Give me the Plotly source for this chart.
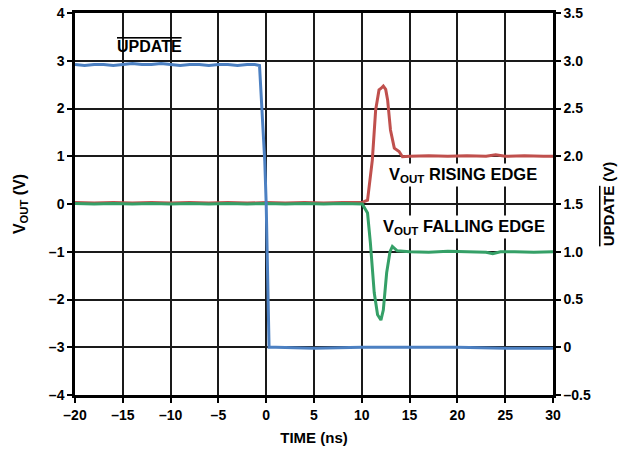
import plotly.graph_objects as go

# ---- data ----
update_t = [-20, -19, -18, -17, -16, -15, -14, -13, -12, -11, -10, -9, -8, -7, -6, -5, -4, -3, -2, -1.2,
            -0.7, -0.5, -0.3, -0.15, 0.0, 0.15, 0.3, 1, 5, 10, 15, 20, 25, 30]
update_v = [2.96, 2.95, 2.96, 2.96, 2.95, 2.96, 2.97, 2.96, 2.96, 2.97, 2.96, 2.95, 2.96, 2.96, 2.95, 2.96,
            2.96, 2.95, 2.96, 2.96, 2.95, 2.6, 2.2, 1.95, 1.5, 0.8, 0.0, 0.0, -0.01, 0.0, 0.0, 0.0, -0.01, -0.01]

rise_t = [-20, -18, -16, -14, -12, -10, -8, -6, -4, -2, 0, 2, 4, 6, 8, 10, 10.6, 11.1, 11.45, 11.8, 12.0,
          12.25, 12.5, 12.7, 13.0, 13.4, 13.9, 14.25, 15, 17, 19, 21, 23, 24, 25, 27, 29, 30]
rise_v = [0.03, 0.02, 0.03, 0.02, 0.03, 0.02, 0.03, 0.02, 0.03, 0.02, 0.03, 0.02, 0.03, 0.02, 0.03, 0.03,
          0.08, 0.92, 1.97, 2.39, 2.42, 2.47, 2.4, 2.18, 1.55, 1.17, 1.1, 0.99, 1.0, 1.01, 1.0, 1.01, 1.0,
          1.03, 1.0, 1.01, 1.0, 1.0]

fall_t = [-20, -18, -16, -14, -12, -10, -8, -6, -4, -2, 0, 2, 4, 6, 8, 10.05, 10.6, 10.9, 11.3, 11.65,
          12.0, 12.25, 12.6, 12.95, 13.2, 13.7, 15, 17, 19, 21, 23, 23.7, 24.5, 26, 28, 30]
fall_v = [0.01, 0.0, 0.01, 0.0, 0.01, 0.0, 0.01, 0.0, 0.01, 0.0, 0.01, 0.0, 0.01, 0.0, 0.01, 0.0, -0.19,
          -0.82, -1.86, -2.32, -2.43, -2.22, -1.44, -1.0, -0.89, -0.98, -1.0, -1.01, -0.99, -1.0, -1.01,
          -1.04, -1.0, -1.0, -1.01, -1.0]

x_ticks = [-20, -15, -10, -5, 0, 5, 10, 15, 20, 25, 30]
x_labels = ["–20", "–15", "–10", "–5", "0", "5", "10", "15", "20", "25", "30"]
y1_ticks = [-4, -3, -2, -1, 0, 1, 2, 3, 4]
y1_labels = ["–4", "–3", "–2", "–1", "0", "1", "2", "3", "4"]
y2_ticks = [-0.5, 0, 0.5, 1.0, 1.5, 2.0, 2.5, 3.0, 3.5]
y2_labels = ["–0.5", "0", "0.5", "1.0", "1.5", "2.0", "2.5", "3.0", "3.5"]

BLUE = "#4c80c2"
RED = "#c0504d"
GREEN = "#35a067"
FONT = "Liberation Sans, Arial, sans-serif"
OVER = "<span style='text-decoration:overline'>UPDATE</span>"

fig = go.Figure()
fig.add_trace(go.Scatter(x=rise_t, y=rise_v, mode="lines", line=dict(color=RED, width=3), yaxis="y"))
fig.add_trace(go.Scatter(x=fall_t, y=fall_v, mode="lines", line=dict(color=GREEN, width=3), yaxis="y"))
fig.add_trace(go.Scatter(x=update_t, y=update_v, mode="lines", line=dict(color=BLUE, width=3), yaxis="y2"))

axis_common = dict(showline=True, linecolor="black", linewidth=2.5, ticks="outside", ticklen=5,
                   tickcolor="black", tickwidth=1.5, automargin=False, ticklabeloverflow="allow",
                   tickfont=dict(family=FONT, size=14, color="black", weight="bold"))

fig.update_layout(
    width=637, height=452,
    margin=dict(l=75, r=84, t=13, b=57),
    paper_bgcolor="white", plot_bgcolor="white",
    showlegend=False,
    font=dict(family=FONT, color="black"),
    xaxis=dict(range=[-20, 30], tickvals=x_ticks, ticktext=x_labels, showgrid=True,
               gridcolor="#1a1a1a", gridwidth=1.5, zeroline=False, mirror=True,
               title=dict(text="<b>TIME (ns)</b>", font=dict(size=15), standoff=11),
               **axis_common),
    yaxis=dict(range=[-4, 4], tickvals=y1_ticks, ticktext=y1_labels, showgrid=True,
               gridcolor="#1a1a1a", gridwidth=1.5, zeroline=False,
               title=dict(text="<b>V<sub>OUT</sub> (V)</b>", font=dict(size=16), standoff=20),
               **axis_common),
    yaxis2=dict(range=[-0.5, 3.5], tickvals=y2_ticks, ticktext=y2_labels, overlaying="y", side="right",
                showgrid=False, zeroline=False,
                title=dict(text="<b>" + OVER + " (V)</b>", font=dict(size=15), standoff=14),
                **axis_common),
)

fig.add_annotation(x=-12.2, y=3.29, xref="x", yref="y", text="<b>" + OVER + "</b>", showarrow=False,
                   font=dict(size=16, color="black"))
fig.add_annotation(x=20.6, y=0.6, xref="x", yref="y", text="<b>V<sub>OUT</sub> RISING EDGE</b>",
                   showarrow=False, font=dict(size=16.5, color="black"), bgcolor="white")
fig.add_annotation(x=20.7, y=-0.48, xref="x", yref="y", text="<b>V<sub>OUT</sub> FALLING EDGE</b>",
                   showarrow=False, font=dict(size=16.5, color="black"), bgcolor="white")

fig.write_html("out.html", config={"displayModeBar": False},
               post_script="document.body.style.margin='0px';")
